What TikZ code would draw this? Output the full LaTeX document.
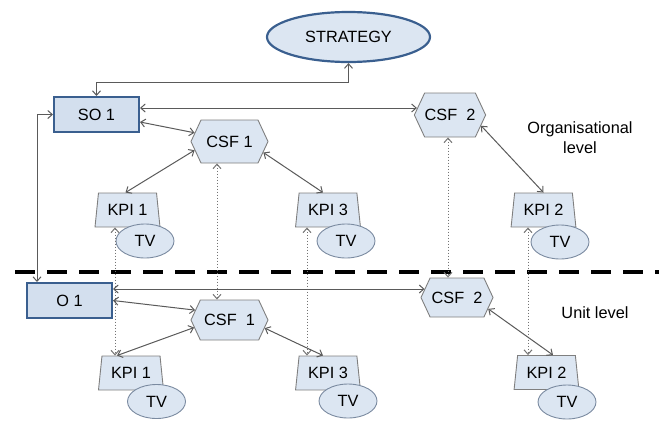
\documentclass[tikz,border=0pt]{standalone}
\usepackage{fontspec}
\setmainfont{Liberation Sans}
\usetikzlibrary{shapes.geometric,shapes.symbols,arrows.meta,calc}
\definecolor{boxfill}{HTML}{DCE6F2}
\definecolor{objfill}{HTML}{D3DFEE}
\definecolor{darkblue}{HTML}{3A5F8F}
\definecolor{edgegray}{HTML}{7F7F7F}
\definecolor{tvedge}{HTML}{7A8AA0}
\definecolor{linegray}{HTML}{5A5A5A}
\begin{document}
\begin{tikzpicture}[x=1pt,y=-1pt,
  font=\fontsize{16.3}{20}\selectfont,
  every node/.style={inner sep=0pt},
  stratnode/.style={ellipse,draw=darkblue,line width=2.2pt,fill=boxfill,minimum width=163pt,minimum height=50pt},
  objbox/.style={rectangle,draw=darkblue,line width=2pt,fill=objfill,minimum width=85pt,minimum height=35pt},
  hexa/.style={signal,signal to=east and west,signal pointer angle=130,draw=edgegray,line width=0.9pt,fill=boxfill,minimum width=77pt,minimum height=43pt},
  kpi/.style={trapezium,trapezium left angle=78,trapezium right angle=78,trapezium stretches=true,draw=edgegray,line width=0.9pt,fill=boxfill,minimum width=65pt,minimum height=34pt},
  tv/.style={ellipse,draw=tvedge,line width=0.9pt,fill=boxfill,minimum width=58pt,minimum height=34pt},
  conn/.style={draw=linegray,line width=1pt,{Straight Barb[length=4.5pt,width=8pt]}-{Straight Barb[length=4.5pt,width=8pt]}},
  dotconn/.style={draw=linegray!85,line width=1pt,dotted,{Straight Barb[length=4.5pt,width=8pt]}-{Straight Barb[length=4.5pt,width=8pt]}},
  levelline/.style={draw=black,line width=4pt,dash pattern=on 20pt off 12pt}]
\useasboundingbox (0,0) rectangle (659,421);

% level separator
\coordinate (dl) at (15,272);
\coordinate (dr) at (659,272);
\draw[levelline] (dl) -- (dr);

% nodes
\node[stratnode] (strategy) at (348.5,37) {STRATEGY};
\node[objbox] (so1) at (96.5,114.5) {SO 1};
\node[objbox] (o1) at (69.5,300.5) {O 1};

\node[hexa] (csf1t) at (229.5,141.5) {CSF 1};
\node[hexa,minimum width=70pt,minimum height=44pt] (csf2t) at (450,115) {CSF\ \ 2};
\node[hexa,minimum height=40pt] (csf1b) at (229.5,320) {CSF\ \ 1};
\node[hexa,minimum width=72pt,minimum height=39pt] (csf2b) at (457,297.5) {CSF\ \ 2};

\node[kpi] (kpi1t) at (127.5,210) {KPI 1};
\node[kpi] (kpi3t) at (328,210) {KPI 3};
\node[kpi] (kpi2t) at (543.5,210) {KPI 2};
\node[tv] (tv1t) at (145,241) {TV};
\node[tv] (tv3t) at (346,241) {TV};
\node[tv] (tv2t) at (560,242) {TV};

\node[kpi] (kpi1b) at (131,373) {KPI 1};
\node[kpi] (kpi3b) at (328,373) {KPI 3};
\node[kpi] (kpi2b) at (546.5,372.5) {KPI 2};
\node[tv] (tv1b) at (156.5,401.5) {TV};
\node[tv] (tv3b) at (348,401) {TV};
\node[tv] (tv2b) at (567,402) {TV};

\node[align=center] (orglabel) at (580,138) {Organisational\\level};
\node (unitlabel) at (595,313) {Unit level};

% organisational level connectors
\draw[conn] (strategy.south) -- ++(0,19) -| (so1.north);
\draw[conn] (so1.west) -| ([xshift=11pt]o1.north west);
\draw[conn] ([yshift=6.5pt]so1.east) -- ($([yshift=6.5pt]so1.east -| csf2t.west)+(3,0)$);
\draw[conn] ([yshift=-7.5pt]so1.east) -- (csf1t.166);
\draw[conn] (csf1t.194) -- ([xshift=-2pt]kpi1t.north);
\draw[conn] (csf1t.-18) -- ([xshift=-5pt]kpi3t.north);
\draw[conn] (csf2t.-19) -- (kpi2t.north);

% vertical links between levels
\draw[dotconn] ([xshift=-12.5pt]kpi1t.south) -- ([xshift=-12.5pt]kpi1t.south |- kpi1b.north);
\draw[dotconn] ([xshift=-12.5pt]csf1t.south) -- ([xshift=-12.5pt]csf1t.south |- csf1b.north);
\draw[dotconn] ([xshift=-21pt]kpi3t.south) -- ([xshift=-21pt]kpi3t.south |- kpi3b.north);
\draw[dotconn] ([xshift=-2pt]csf2t.south) -- ([xshift=-2pt]csf2t.south |- csf2b.north);
\draw[dotconn] ([xshift=-15.5pt]kpi2t.south) -- ([xshift=-15.5pt]kpi2t.south |- kpi2b.north);

% unit level connectors
\draw[conn] ([yshift=11.5pt]o1.east) -- ($([yshift=11.5pt]o1.east -| csf2b.west)+(4,0)$);
\draw[conn] (o1.east) -- (csf1b.164);
\draw[conn] (csf1b.192) -- ([xshift=-14pt]kpi1b.north);
\draw[conn] (csf1b.-13) -- ([xshift=-5pt]kpi3b.north);
\draw[conn] (csf2b.-20) -- ([xshift=6.5pt]kpi2b.north);
\end{tikzpicture}
\end{document}
